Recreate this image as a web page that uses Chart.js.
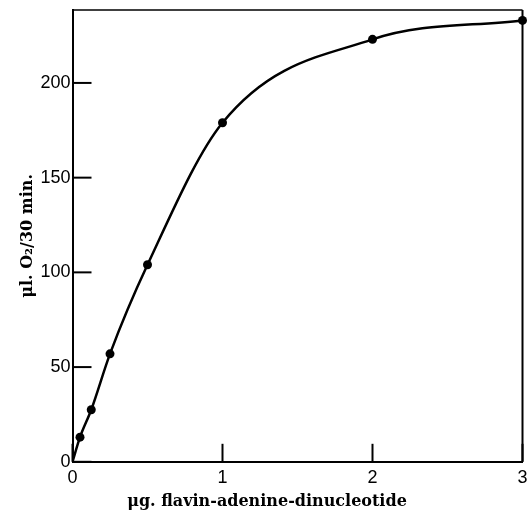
<!DOCTYPE html>
<html>
<head>
<meta charset="utf-8">
<script src="https://cdn.jsdelivr.net/npm/chart.js@4.4.0/dist/chart.umd.min.js"></script>
<style>
  html, body { margin: 0; padding: 0; background: #fff; }
  #wrap { width: 527px; height: 512px; position: relative; }
</style>
</head>
<body>
<div id="wrap"><canvas id="c" width="527" height="512"></canvas></div>
<script>
// Data
const fadAmounts = [0.05, 0.125, 0.25, 0.5, 1, 2, 3];     // µg FAD
const o2Uptake   = [13, 27.5, 57, 104, 179, 223, 233];    // µl O2 / 30 min
const curveOrigin = [0, 0];                               // fitted curve starts at origin
const xTickValues = [0, 1, 2, 3];
const yTickValues = [0, 50, 100, 150, 200];
const xTitle = 'μg. flavin-adenine-dinucleotide';
const yTitle = 'μl. O₂/30 min.';

const measured = fadAmounts.map((x, i) => ({ x: x, y: o2Uptake[i] }));
const curve = [{ x: curveOrigin[0], y: curveOrigin[1] }].concat(measured);

const tickFont = { family: 'Liberation Sans', size: 18 };
const titleFont = { family: 'DejaVu Serif', size: 16, weight: 'bold' };

const inwardTicks = {
  id: 'inwardTicks',
  afterDraw(chart) {
    const ctx = chart.ctx;
    const area = chart.chartArea;
    ctx.save();
    ctx.strokeStyle = '#000';
    ctx.lineWidth = 2;
    const xs = chart.scales.x, ys = chart.scales.y;
    xs.ticks.forEach(t => {
      const px = xs.getPixelForValue(t.value);
      ctx.beginPath(); ctx.moveTo(px, area.bottom); ctx.lineTo(px, area.bottom - 18); ctx.stroke();
    });
    ys.ticks.forEach(t => {
      const py = ys.getPixelForValue(t.value);
      ctx.beginPath(); ctx.moveTo(area.left, py); ctx.lineTo(area.left + 19, py); ctx.stroke();
    });
    ctx.lineWidth = 1.5;
    ctx.beginPath();
    ctx.moveTo(area.left, area.top); ctx.lineTo(area.right, area.top);
    ctx.stroke();
    ctx.lineWidth = 2;
    ctx.beginPath();
    ctx.moveTo(area.right, area.top); ctx.lineTo(area.right, area.bottom);
    ctx.stroke();
    ctx.restore();
  }
};

new Chart(document.getElementById('c'), {
  type: 'scatter',
  data: {
    datasets: [
      {
        label: 'curve',
        data: curve,
        showLine: true,
        cubicInterpolationMode: 'monotone',
        borderColor: '#000',
        borderWidth: 2.5,
        pointRadius: 0,
        pointHoverRadius: 0,
        fill: false
      },
      {
        label: 'measured',
        data: measured,
        showLine: false,
        pointRadius: 4.5,
        pointBackgroundColor: '#000',
        pointBorderColor: '#000',
        pointBorderWidth: 0,
        clip: false
      }
    ]
  },
  options: {
    responsive: false,
    animation: false,
    events: [],
    layout: { padding: { left: 10, right: 3, top: 10, bottom: 1 } },
    plugins: {
      legend: { display: false },
      tooltip: { enabled: false },
      title: {
        display: true,
        position: 'bottom',
        text: xTitle,
        color: '#000',
        font: titleFont,
        padding: { top: 0, bottom: 0 }
      }
    },
    scales: {
      x: {
        type: 'linear',
        min: 0,
        max: 3,
        afterBuildTicks: s => { s.ticks = xTickValues.map(v => ({ value: v })); },
        afterFit: s => { s.height = 30; s.paddingLeft = 0; s.paddingRight = 0; },
        grid: { display: false, drawTicks: false },
        border: { display: true, color: '#000', width: 2 },
        ticks: { color: '#000', font: tickFont, padding: 5, maxRotation: 0, autoSkip: false,
                 callback: v => String(v) }
      },
      y: {
        type: 'linear',
        min: 0,
        max: 238.5,
        afterBuildTicks: s => { s.ticks = yTickValues.map(v => ({ value: v })); },
        afterFit: s => { s.width = 62.5; s.paddingTop = 0; s.paddingBottom = 0; },
        grid: { display: false, drawTicks: false },
        border: { display: true, color: '#000', width: 2 },
        title: {
          display: true,
          text: yTitle,
          color: '#000',
          font: titleFont,
          padding: { top: 8, bottom: 0 }
        },
        ticks: { color: '#000', font: tickFont, padding: 2, autoSkip: false,
                 callback: v => String(v) }
      }
    }
  },
  plugins: [inwardTicks]
});
</script>
</body>
</html>
